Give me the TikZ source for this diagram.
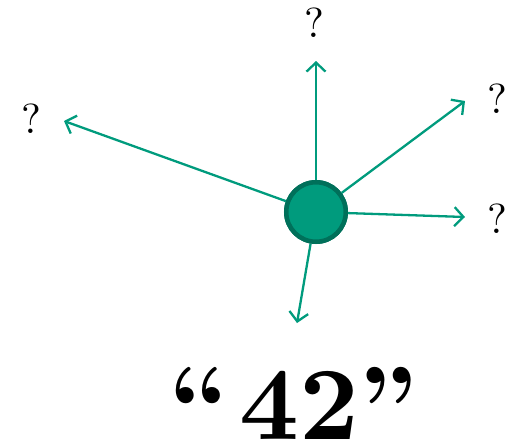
\documentclass[tikz,border=0pt]{standalone}
\usepackage{fontspec}
\newfontfamily\qfont{lmroman10-regular.otf}
\newfontfamily\bigbold{lmroman10-bold.otf}
\usetikzlibrary{arrows.meta}
\definecolor{teal1}{HTML}{009B7D}
\definecolor{teal2}{HTML}{00705A}
\tikzset{
  qmark/.style={font=\qfont\fontsize{42}{42}\selectfont, inner sep=0pt},
  ray/.style={draw=teal1, line width=2.3pt, -{Straight Barb[length=9pt,width=19pt,line width=2.3pt]}},
  dot/.style={circle, fill=teal1, draw=teal2, line width=4.5pt, minimum size=59.5pt, inner sep=0pt}
}
\begin{document}
\begin{tikzpicture}[x=1pt,y=-1pt]
\useasboundingbox (0,0) rectangle (512,445);
\node[dot] (c) at (316,212) {};
\coordinate (tu) at (316,61);
\coordinate (tur) at (465,101);
\coordinate (tr) at (465,217);
\coordinate (tl) at (64,121);
\coordinate (td) at (297,323);
\node[qmark] (qu) at (314,23) {?};
\node[qmark] (qur) at (497,99) {?};
\node[qmark] (qr) at (497,219) {?};
\node[qmark] (ql) at (31,119) {?};
\draw[ray] (c) -- (tu);
\draw[ray] (c) -- (tur);
\draw[ray] (c) -- (tr);
\draw[ray] (c) -- (tl);
\draw[ray] (c) -- (td);
\node[dot] at (c) {};
\node[inner sep=0pt, anchor=base, font=\bigbold\fontsize{104}{104}\selectfont] (t) at (294,439) {“\kern0.1em 42”};
\end{tikzpicture}
\end{document}
